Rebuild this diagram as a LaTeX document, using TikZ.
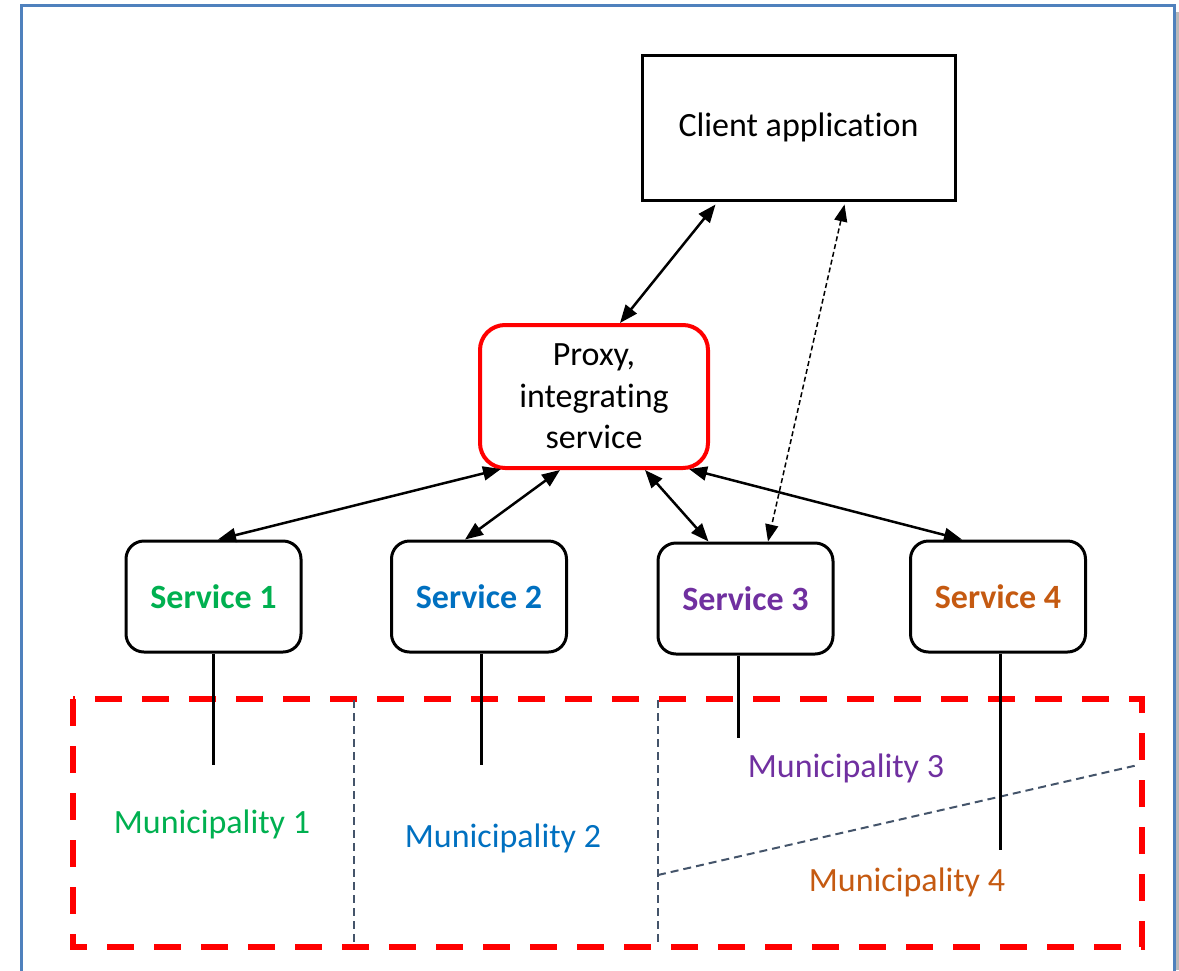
\documentclass[tikz,border=0pt]{standalone}
\usepackage{fontspec}
\setmainfont[Ligatures={NoCommon}]{Carlito}
\usetikzlibrary{arrows.meta}
\definecolor{frameblue}{HTML}{4F81BD}
\definecolor{mgreen}{HTML}{00B050}
\definecolor{mblue}{HTML}{0070C0}
\definecolor{mpurple}{HTML}{7030A0}
\definecolor{morange}{HTML}{C55A11}
\definecolor{slate}{HTML}{44546A}
\tikzset{
  txt/.style={font=\fontsize{34pt}{41.5pt}\selectfont, inner sep=0pt},
  clientbox/.style={draw=black, line width=3pt, minimum width=313pt, minimum height=145pt, txt},
  proxybox/.style={draw=red, line width=4pt, rounded corners=25pt, minimum width=228pt, minimum height=143pt, txt, align=center},
  servicebox/.style={draw=black, line width=3pt, rounded corners=18pt, minimum width=175pt, minimum height=111pt, inner sep=0pt, font=\fontsize{34pt}{41.5pt}\selectfont\bfseries},
  link/.style={line width=2.5pt, {Triangle[length=18pt,width=14pt]}-{Triangle[length=18pt,width=14pt]}},
  dlink/.style={line width=1.5pt, dash pattern=on 5pt off 3pt, {Triangle[length=17pt,width=13pt]}-{Triangle[length=17pt,width=13pt]}},
  drop/.style={line width=3pt},
  region/.style={draw=red, line width=6.5pt, dash pattern=on 27pt off 20pt},
  divider/.style={draw=slate, line width=2pt, dash pattern=on 8pt off 5pt},
  munlabel/.style={txt, anchor=base},
}
\begin{document}
\begin{tikzpicture}[x=1pt,y=-1pt]
\useasboundingbox (0,0) rectangle (1179,970);
% page frame
\fill[gray!55] (1175.5,12) rectangle (1179,970);
\draw[frameblue, line width=3pt] (21,975) -- (21,5) -- (1174,5) -- (1174,975);

% nodes
\node[clientbox] (client) at (798.5,127.5) {Client application};
\node[proxybox] (proxy) at (594,396.5) {Proxy,\\integrating\\service};
\node[servicebox, text=mgreen] (s1) at (213.5,596.5) {Service 1};
\node[servicebox, text=mblue] (s2) at (479,596.5) {Service 2};
\node[servicebox, text=mpurple] (s3) at (745.5,598.5) {Service 3};
\node[servicebox, text=morange] (s4) at (998,596.5) {Service 4};

% municipalities region
\coordinate (rtl) at (73,699);
\coordinate (rbr) at (1142,947);
\draw[region] (rtl) rectangle (rbr);
\coordinate (d1a) at (354,700);
\coordinate (d1b) at (354,946);
\coordinate (d2a) at (658,700);
\coordinate (d2b) at (658,946);
\coordinate (d3a) at (658,875);
\coordinate (d3b) at (1138,765);
\draw[divider] (d1a) -- (d1b);
\draw[divider] (d2a) -- (d2b);
\draw[divider] (d3a) -- (d3b);

\node[munlabel, text=mgreen] (m1) at (212,833) {Municipality 1};
\node[munlabel, text=mblue] (m2) at (503,847) {Municipality 2};
\node[munlabel, text=mpurple] (m3) at (846,777) {Municipality 3};
\node[munlabel, text=morange] (m4) at (907,891) {Municipality 4};

% drops from services
\coordinate (m1top) at (213.5,765);
\coordinate (m2top) at (481,765);
\coordinate (m3top) at (738,738);
\coordinate (m4top) at (1000,850);
\draw[drop] (s1.south) -- (m1top);
\draw[drop] ([xshift=2pt]s2.south) -- (m2top);
\draw[drop] ([xshift=-7.5pt]s3.south) -- (m3top);
\draw[drop] ([xshift=2pt]s4.south) -- (m4top);

% connectors
\draw[link] ([xshift=75pt,yshift=-3pt]client.south west) -- ([xshift=26pt]proxy.north);
\draw[dlink] ([xshift=204pt,yshift=-3pt]client.south west) -- ([xshift=22.5pt]s3.north);
\draw[link] ([xshift=23pt,yshift=1pt]proxy.south west) -- ([xshift=4.5pt]s1.north);
\draw[link] ([xshift=-34pt]proxy.south) -- ([xshift=-14pt]s2.north);
\draw[link] ([xshift=51pt]proxy.south) -- ([xshift=-37pt]s3.north);
\draw[link] ([xshift=-21pt,yshift=1pt]proxy.south east) -- ([xshift=-36pt]s4.north);
\end{tikzpicture}
\end{document}
